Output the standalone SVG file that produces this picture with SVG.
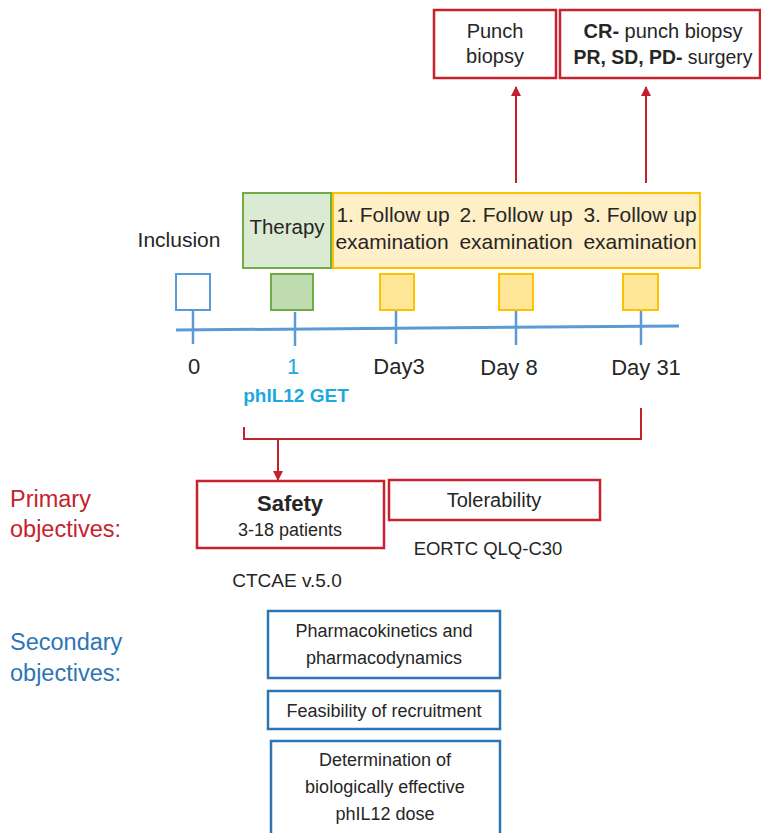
<svg xmlns="http://www.w3.org/2000/svg" width="761" height="833" viewBox="0 0 761 833">
<defs>
<style>
text{font-family:"Liberation Sans",Arial,sans-serif;fill:#262626;text-anchor:middle}
.red{fill:none;stroke:#C8222E;stroke-width:2.5}
.blue{fill:#fff;stroke:#2E75B6;stroke-width:2.5}
.tick{stroke:#5B9BD5;stroke-width:2.5}
.con{stroke:#C0212B;stroke-width:2;fill:none}
.ysq{fill:#FFE699;stroke:#FFC000;stroke-width:2}
.t20{font-size:20px}
.t21{font-size:21px}
.t22{font-size:22px}
.t18{font-size:18px}
.lab{font-size:23.5px;text-anchor:start}
</style>
<marker id="ah" markerWidth="10" markerHeight="10" refX="9" refY="5" orient="auto" markerUnits="userSpaceOnUse">
<path d="M0,0 L10,5 L0,10 z" fill="#C0212B"/>
</marker>
</defs>
<rect width="761" height="833" fill="#fff"/>

<g id="punch-biopsy">
<rect x="434" y="10" width="122" height="68" class="red"/>
<text x="495" y="38" class="t20">Punch</text>
<text x="495" y="63" class="t20">biopsy</text>
</g>
<g id="outcome">
<rect x="560" y="10" width="200" height="68" class="red"/>
<text x="663" y="38" class="t20"><tspan font-weight="bold">CR-</tspan> punch biopsy</text>
<text x="663" y="64" font-size="19.4"><tspan font-weight="bold">PR, SD, PD-</tspan> surgery</text>
</g>

<g id="therapy">
<rect x="243" y="193" width="88" height="75" fill="#DAEAD3" stroke="#70AD47" stroke-width="2"/>
<text x="287" y="234" font-size="20.5">Therapy</text>
</g>
<g id="followup">
<rect x="333" y="193" width="367" height="75" fill="#FFEFC6" stroke="#FFC000" stroke-width="2"/>
<text x="393" y="222" class="t21">1. Follow up</text>
<text x="392" y="249" class="t21">examination</text>
<text x="516" y="222" class="t21">2. Follow up</text>
<text x="516" y="249" class="t21">examination</text>
<text x="640" y="222" class="t21">3. Follow up</text>
<text x="640" y="249" class="t21">examination</text>
</g>
<g id="inclusion-label">
<text x="179" y="247" class="t21">Inclusion</text>
</g>

<g id="timeline">
<line x1="176" y1="330" x2="679" y2="326" stroke="#5B9BD5" stroke-width="3"/>
<line x1="193" y1="310" x2="193" y2="344" class="tick"/>
<line x1="295" y1="312" x2="295" y2="346" class="tick"/>
<line x1="396" y1="310" x2="396" y2="344" class="tick"/>
<line x1="516" y1="310" x2="516" y2="345" class="tick"/>
<line x1="641" y1="310" x2="641" y2="345" class="tick"/>
</g>

<g id="sq-inclusion"><rect x="176" y="274" width="34" height="36" fill="#fff" stroke="#5B9BD5" stroke-width="2"/></g>
<g id="sq-therapy"><rect x="271" y="274" width="42" height="36" fill="#BFDCAE" stroke="#70AD47" stroke-width="2"/></g>
<g id="sq-day3"><rect x="380" y="274" width="34" height="36" class="ysq"/></g>
<g id="sq-day8"><rect x="499" y="274" width="34" height="36" class="ysq"/></g>
<g id="sq-day31"><rect x="623" y="274" width="35" height="36" class="ysq"/></g>

<g id="day-labels">
<text x="194" y="374" class="t22">0</text>
<text x="293" y="374" class="t22" style="fill:#1FA8E0">1</text>
<text x="399" y="374" class="t22">Day3</text>
<text x="509" y="375" class="t22">Day 8</text>
<text x="646" y="375" class="t22">Day 31</text>
<text x="296" y="402" font-size="19" font-weight="bold" style="fill:#1FA8E0">phIL12 GET</text>
</g>

<g id="connectors">
<line x1="516" y1="183" x2="516" y2="87" class="con" marker-end="url(#ah)"/>
<line x1="646" y1="183" x2="646" y2="87" class="con" marker-end="url(#ah)"/>
<polyline points="244,427 244,439 641,439 641,408" class="con"/>
<line x1="278" y1="439" x2="278" y2="480" class="con" marker-end="url(#ah)"/>
</g>

<g id="primary-label">
<text x="10" y="507" class="lab" style="fill:#C8222E">Primary</text>
<text x="10" y="537" class="lab" style="fill:#C8222E">objectives:</text>
</g>
<g id="safety">
<rect x="197" y="481" width="187" height="67" class="red"/>
<text x="290" y="511" class="t22" font-weight="bold">Safety</text>
<text x="290" y="536" class="t18">3-18 patients</text>
</g>
<g id="tolerability">
<rect x="389" y="480" width="211" height="40" class="red"/>
<text x="494" y="507" class="t20">Tolerability</text>
</g>
<g id="ctcae"><text x="287" y="587" font-size="19">CTCAE v.5.0</text></g>
<g id="eortc"><text x="488" y="555" font-size="18.5">EORTC QLQ-C30</text></g>

<g id="secondary-label">
<text x="10" y="650" class="lab" style="fill:#2E75B6">Secondary</text>
<text x="10" y="681" class="lab" style="fill:#2E75B6">objectives:</text>
</g>
<g id="pk">
<rect x="268" y="611" width="232" height="67" class="blue"/>
<text x="384" y="637" class="t18">Pharmacokinetics and</text>
<text x="384" y="664" class="t18">pharmacodynamics</text>
</g>
<g id="feasibility">
<rect x="268" y="691" width="232" height="38" class="blue"/>
<text x="384" y="717" class="t18">Feasibility of recruitment</text>
</g>
<g id="dose">
<rect x="271" y="741" width="229" height="100" class="blue"/>
<text x="385" y="766" class="t18">Determination of</text>
<text x="385" y="793" class="t18">biologically effective</text>
<text x="385" y="820" class="t18">phIL12 dose</text>
</g>
</svg>
